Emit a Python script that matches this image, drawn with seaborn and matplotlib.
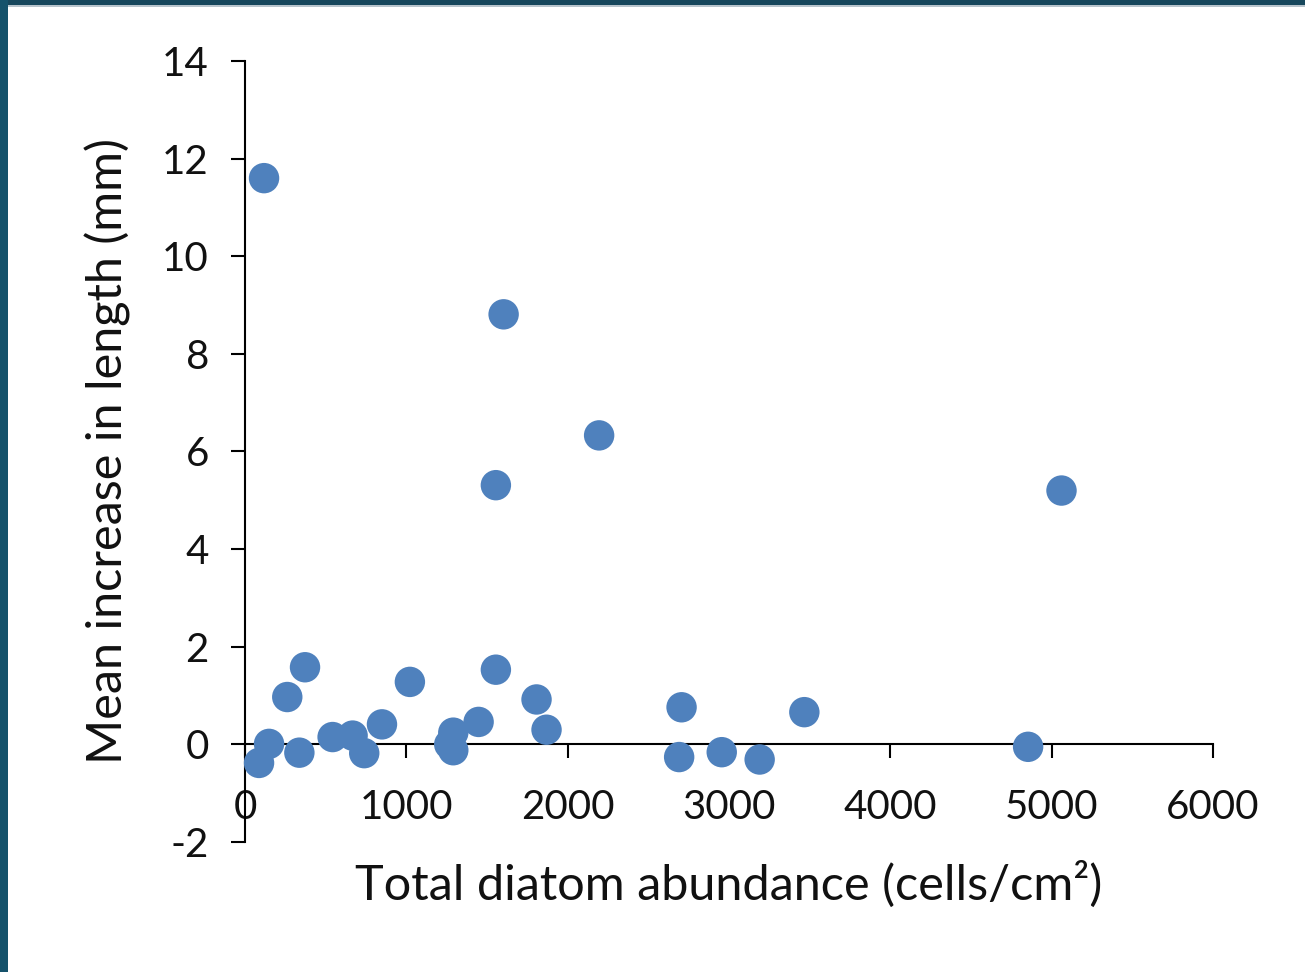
import matplotlib
matplotlib.use("Agg")
import matplotlib.pyplot as plt
import seaborn as sns
import pandas as pd
from matplotlib.patches import Rectangle

# Diatom abundance (cells/cm2) vs. mean increase in length (mm)
abundance = [118, 1603, 2195, 1555, 5061, 87, 149, 262, 372, 337, 543, 667, 739,
             849, 1022, 1266, 1291, 1291, 1448, 1555, 1807, 1869, 2706, 2691,
             2955, 3190, 3467, 4854]
length_increase = [11.6, 8.81, 6.33, 5.31, 5.20, -0.38, 0.01, 0.97, 1.58, -0.17,
                   0.15, 0.18, -0.18, 0.41, 1.28, 0.00, 0.24, -0.12, 0.46, 1.53,
                   0.92, 0.30, 0.76, -0.26, -0.16, -0.31, 0.66, -0.05]
x_ticks = [0, 1000, 2000, 3000, 4000, 5000, 6000]
y_ticks = [-2, 0, 2, 4, 6, 8, 10, 12, 14]

df = pd.DataFrame({"abundance": abundance, "increase": length_increase})

sns.set_style("ticks")
plt.rcParams["font.family"] = ["Lato", "DejaVu Sans"]

fig = plt.figure(figsize=(13.05, 9.72), dpi=100)
fig.patch.set_facecolor("white")
ax = fig.add_axes([245 / 1305, 1 - 842 / 972, (1213 - 245) / 1305, (842 - 61) / 972])

sns.scatterplot(data=df, x="abundance", y="increase", ax=ax, s=480,
                color="#4F81BD", edgecolor="none", linewidth=0, legend=False,
                zorder=5, clip_on=False)

ax.set_xlim(0, 6000)
ax.set_ylim(-2, 14)
ax.set_xticks(x_ticks)
ax.set_yticks(y_ticks)
ax.set_xticklabels([str(t) for t in x_ticks])
ax.set_yticklabels([str(t) for t in y_ticks])

ax.spines["top"].set_visible(False)
ax.spines["right"].set_visible(False)
ax.spines["bottom"].set_position(("data", 0))
for s in ("left", "bottom"):
    ax.spines[s].set_linewidth(1.5)
    ax.spines[s].set_color("#000000")
    ax.spines[s].set_zorder(3)

ax.tick_params(axis="both", direction="out", length=10, width=1.5,
               color="#000000", labelsize=29, labelcolor="#111111")
ax.tick_params(axis="x", pad=22)
ax.tick_params(axis="y", pad=16)

ax.set_xlabel("Total diatom abundance (cells/cm²)", fontsize=35, color="#111111")
ax.set_ylabel("Mean increase in length (mm)", fontsize=35, color="#111111")
ax.xaxis.set_label_coords(0.5, (842 - 884) / (842 - 61))
ax.yaxis.set_label_coords((108 - 245) / (1213 - 245), 0.5)
ax.xaxis.label.set_va("center")
ax.yaxis.label.set_va("center")

# dark frame along the top and left edges
fig.patches.append(Rectangle((0, 1 - 5 / 972), 1, 5 / 972, transform=fig.transFigure,
                             facecolor="#17475c", edgecolor="none", zorder=10))
fig.patches.append(Rectangle((0, 1 - 7 / 972), 1, 2 / 972, transform=fig.transFigure,
                             facecolor="#b8c4cc", edgecolor="none", zorder=9))
fig.patches.append(Rectangle((0, 0), 8 / 1305, 1, transform=fig.transFigure,
                             facecolor="#15526b", edgecolor="none", zorder=11))

fig.savefig("out.png", dpi=100)
